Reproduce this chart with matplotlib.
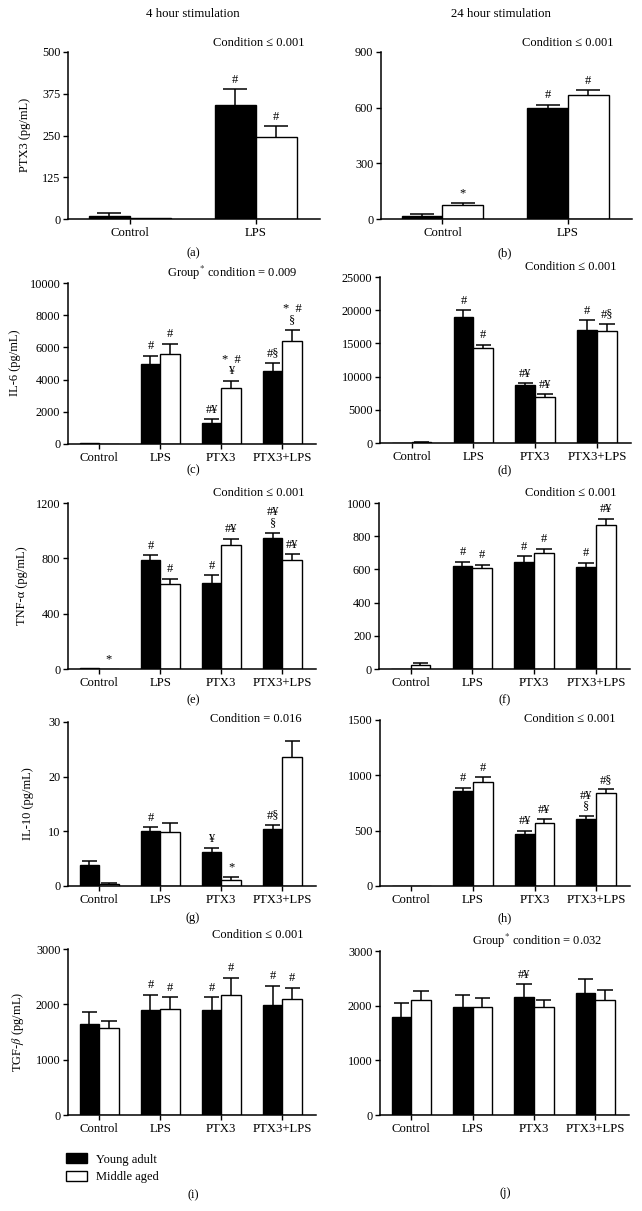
import numpy as np
import matplotlib
matplotlib.use('Agg')
import matplotlib.pyplot as plt

plt.rcParams['font.family'] = ['Liberation Serif', 'DejaVu Serif']
plt.rcParams['mathtext.fontset'] = 'stix'
plt.rcParams['font.size'] = 9

# ---- data ----
cats_2 = ['Control', 'LPS']
cats_4 = ['Control', 'LPS', 'PTX3', 'PTX3+LPS']

ptx3_4h_young = [9, 341]
ptx3_4h_young_err = [10, 48]
ptx3_4h_middle = [2, 246]
ptx3_4h_middle_err = [0, 31]

ptx3_24h_young = [18, 598]
ptx3_24h_young_err = [7, 19]
ptx3_24h_middle = [76, 666]
ptx3_24h_middle_err = [9, 27]

il6_4h_young = [60, 4990, 1300, 4510]
il6_4h_young_err = [0, 500, 230, 520]
il6_4h_middle = [0, 5610, 3460, 6380]
il6_4h_middle_err = [0, 620, 480, 720]

il6_24h_young = [0, 18930, 8690, 17070]
il6_24h_young_err = [0, 1100, 350, 1400]
il6_24h_middle = [100, 14310, 6980, 16920]
il6_24h_middle_err = [50, 500, 350, 1000]

tnf_4h_young = [5, 786, 619, 947]
tnf_4h_young_err = [0, 36, 58, 36]
tnf_4h_middle = [0, 612, 899, 790]
tnf_4h_middle_err = [0, 40, 43, 41]

tnf_24h_young = [3, 620, 645, 612]
tnf_24h_young_err = [0, 25, 34, 29]
tnf_24h_middle = [26, 610, 699, 869]
tnf_24h_middle_err = [8, 18, 26, 35]

il10_4h_young = [3.86, 9.98, 6.25, 10.35]
il10_4h_young_err = [0.67, 0.8, 0.67, 0.8]
il10_4h_middle = [0.3, 9.92, 1.16, 23.57]
il10_4h_middle_err = [0.25, 1.6, 0.44, 3.03]

il10_24h_young = [3, 860, 471, 607]
il10_24h_young_err = [0, 30, 27, 24]
il10_24h_middle = [3, 942, 570, 839]
il10_24h_middle_err = [0, 39, 31, 33]

tgfb_4h_young = [1642, 1891, 1903, 1988]
tgfb_4h_young_err = [225, 279, 224, 345]
tgfb_4h_middle = [1564, 1921, 2176, 2103]
tgfb_4h_middle_err = [139, 206, 303, 194]

tgfb_24h_young = [1793, 1976, 2158, 2237]
tgfb_24h_young_err = [256, 225, 231, 255]
tgfb_24h_middle = [2109, 1976, 1976, 2109]
tgfb_24h_middle_err = [159, 164, 133, 171]

# significance marks (young, middle)
marks_a = (['', '#'], ['', '#'])
marks_b = (['', '#'], ['*', '#'])
marks_c = (['', '#', '#¥', '#§'], ['', '#', '*  #\n¥', '*  #\n§'])
marks_d = (['', '#', '#¥', '#'], ['', '#', '#¥', '#§'])
marks_e = (['', '#', '#', '#¥\n§'], ['*', '#', '#¥', '#¥'])
marks_f = (['', '#', '#', '#'], ['', '#', '#', '#¥'])
marks_g = (['', '#', '¥', '#§'], ['', '', '*', ''])
marks_h = (['', '#', '#¥', '#¥\n§'], ['', '#', '#¥', '#§'])
marks_i = (['', '#', '#', '#'], ['', '#', '#', '#'])
marks_j = (['', '', '#¥', ''], ['', '', '', ''])

W, H = 642, 1211
fig = plt.figure(figsize=(W / 100, H / 100), dpi=100)


def px_axes(left, right, top, bottom):
    return fig.add_axes([left / W, 1 - bottom / H, (right - left) / W, (bottom - top) / H])


def draw_panel(ax, cats, young, young_err, middle, middle_err, marks, yticks):
    n = len(cats)
    x = np.arange(n)
    if n == 2:
        width, cap, xlim = 0.325, 0.095, (-0.49, 1.51)
    else:
        width, cap, xlim = 0.32, 0.125, (-0.51, 3.55)
    bars_y = ax.bar(x - width / 2, young, width, color='black', edgecolor='black',
                    linewidth=1, zorder=2, label='Young adult')
    bars_m = ax.bar(x + width / 2, middle, width, color='white', edgecolor='black',
                    linewidth=1, zorder=2, label='Middle aged')
    # upward-only error bars with caps
    for xs, vals, errs in [(x - width / 2, young, young_err), (x + width / 2, middle, middle_err)]:
        vals = np.asarray(vals, dtype=float)
        errs = np.asarray(errs, dtype=float)
        has = errs > 0
        ax.vlines(xs[has], vals[has], vals[has] + errs[has], color='black', linewidth=1.1, zorder=3)
        ax.hlines(vals[has] + errs[has], xs[has] - cap, xs[has] + cap, color='black',
                  linewidth=1.1, zorder=3)
    for xs, vals, errs, mk in [(x - width / 2, young, young_err, marks[0]),
                               (x + width / 2, middle, middle_err, marks[1])]:
        for xi, v, e, m in zip(xs, vals, errs, mk):
            if m:
                ax.annotate(m, xy=(xi, v + e), xytext=(0, 2.5), textcoords='offset points',
                            ha='center', va='bottom', fontsize=9, linespacing=0.9,
                            multialignment='center', annotation_clip=False)
    ax.set_xlim(*xlim)
    ax.set_ylim(0, yticks[-1])
    ax.set_yticks(yticks)
    ax.set_xticks(x)
    ax.set_xticklabels(cats, fontsize=9.2)
    ax.tick_params(axis='y', labelsize=8.8, length=3.5, width=1, direction='out', pad=2)
    ax.tick_params(axis='x', length=3.5, width=1, direction='out', pad=2)
    ax.spines['top'].set_visible(False)
    ax.spines['right'].set_visible(False)
    ax.spines['left'].set_linewidth(1.1)
    ax.spines['bottom'].set_linewidth(1.1)
    return bars_y, bars_m


ax_a = px_axes(68, 320, 52, 219)
draw_panel(ax_a, cats_2, ptx3_4h_young, ptx3_4h_young_err, ptx3_4h_middle,
           ptx3_4h_middle_err, marks_a, [0, 125, 250, 375, 500])
ax_b = px_axes(381, 632, 52, 219)
draw_panel(ax_b, cats_2, ptx3_24h_young, ptx3_24h_young_err, ptx3_24h_middle,
           ptx3_24h_middle_err, marks_b, [0, 300, 600, 900])
ax_c = px_axes(68, 316, 283, 444)
draw_panel(ax_c, cats_4, il6_4h_young, il6_4h_young_err, il6_4h_middle,
           il6_4h_middle_err, marks_c, [0, 2000, 4000, 6000, 8000, 10000])
ax_d = px_axes(380, 631, 277, 443)
draw_panel(ax_d, cats_4, il6_24h_young, il6_24h_young_err, il6_24h_middle,
           il6_24h_middle_err, marks_d, [0, 5000, 10000, 15000, 20000, 25000])
ax_e = px_axes(68, 316, 503, 669)
draw_panel(ax_e, cats_4, tnf_4h_young, tnf_4h_young_err, tnf_4h_middle,
           tnf_4h_middle_err, marks_e, [0, 400, 800, 1200])
ax_f = px_axes(379, 630, 503, 669)
draw_panel(ax_f, cats_4, tnf_24h_young, tnf_24h_young_err, tnf_24h_middle,
           tnf_24h_middle_err, marks_f, [0, 200, 400, 600, 800, 1000])
ax_g = px_axes(68, 316, 722, 886)
draw_panel(ax_g, cats_4, il10_4h_young, il10_4h_young_err, il10_4h_middle,
           il10_4h_middle_err, marks_g, [0, 10, 20, 30])
ax_h = px_axes(380, 630, 720, 886)
draw_panel(ax_h, cats_4, il10_24h_young, il10_24h_young_err, il10_24h_middle,
           il10_24h_middle_err, marks_h, [0, 500, 1000, 1500])
ax_i = px_axes(68, 316, 949, 1115)
handles = draw_panel(ax_i, cats_4, tgfb_4h_young, tgfb_4h_young_err, tgfb_4h_middle,
                     tgfb_4h_middle_err, marks_i, [0, 1000, 2000, 3000])
ax_j = px_axes(380, 629, 951, 1115)
draw_panel(ax_j, cats_4, tgfb_24h_young, tgfb_24h_young_err, tgfb_24h_middle,
           tgfb_24h_middle_err, marks_j, [0, 1000, 2000, 3000])


def ftext(x, y, s, **kw):
    fig.text(x / W, 1 - y / H, s, ha='center', va='center', **kw)


# column titles
ftext(193, 14, '4 hour stimulation', fontsize=9.2)
ftext(501, 14, '24 hour stimulation', fontsize=9.2)

# statistics notes
ftext(259, 43, 'Condition ≤ 0.001')
ftext(568, 43, 'Condition ≤ 0.001')
ftext(232, 273, 'Group$^{*}$ condition = 0.009')
ftext(571, 267, 'Condition ≤ 0.001')
ftext(259, 493, 'Condition ≤ 0.001')
ftext(571, 493, 'Condition ≤ 0.001')
ftext(256, 719, 'Condition = 0.016')
ftext(570, 719, 'Condition ≤ 0.001')
ftext(258, 935, 'Condition ≤ 0.001')
ftext(537, 941, 'Group$^{*}$ condition = 0.032')

# y labels
ftext(25, 135, 'PTX3 (pg/mL)', rotation=90)
ftext(15, 363, 'IL-6 (pg/mL)', rotation=90)
ftext(22, 586, 'TNF-α (pg/mL)', rotation=90)
ftext(28, 804, 'IL-10 (pg/mL)', rotation=90)
ftext(18, 1032, 'TGF-$\\beta$ (pg/mL)', rotation=90)

# panel letters
for lab, px, py in [('(a)', 193, 253), ('(b)', 505, 253), ('(c)', 193, 470), ('(d)', 505, 470),
                    ('(e)', 193, 700), ('(f)', 505, 700), ('(g)', 193, 918), ('(h)', 505, 918),
                    ('(i)', 193, 1195), ('(j)', 505, 1193)]:
    ftext(px, py, lab)

fig.legend(handles=list(handles), labels=['Young adult', 'Middle aged'],
           loc='upper left', bbox_to_anchor=(66 / W, 1 - 1153 / H), frameon=False,
           borderpad=0, borderaxespad=0, handlelength=1.7, handleheight=0.9,
           handletextpad=0.7, labelspacing=0.4, fontsize=9)

fig.savefig('out.png', dpi=100)
